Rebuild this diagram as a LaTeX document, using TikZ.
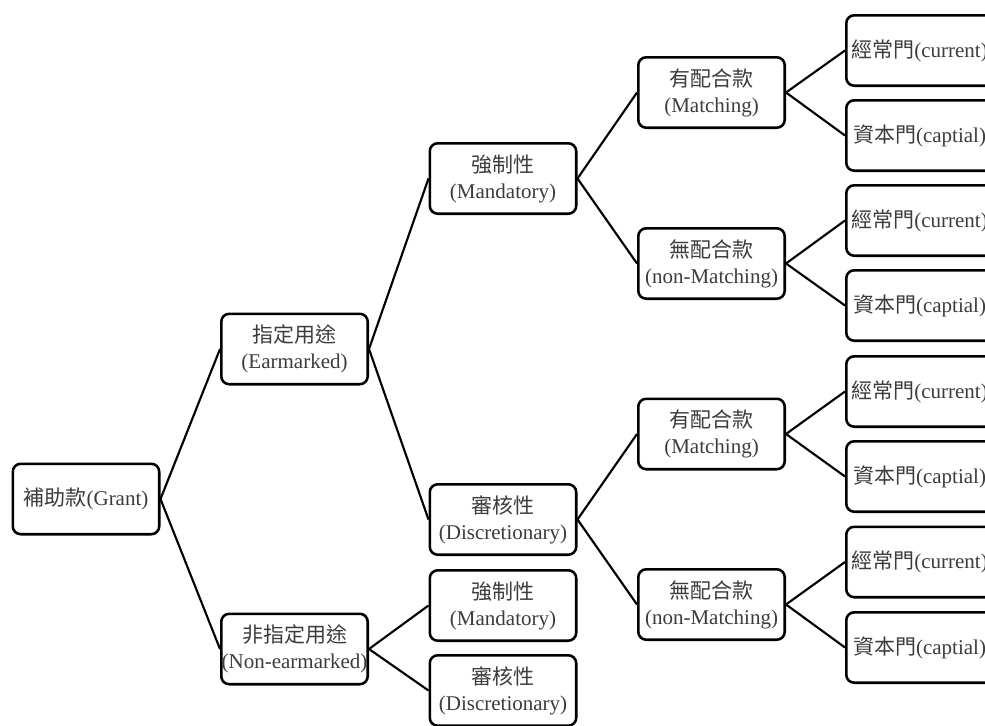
\documentclass[tikz,border=0pt]{standalone}
\usepackage{fontspec}
\setmainfont{Liberation Serif}
\newfontfamily\cjk{Noto Sans CJK TC}
\definecolor{txt}{RGB}{60,60,60}
\begin{document}
\begin{tikzpicture}[x=0.75pt,y=-0.75pt,
  box/.style={draw=black, line width=1.9pt, rounded corners=6pt, fill=white,
    minimum width=111.75pt-1.9pt, minimum height=54.75pt-1.9pt, inner sep=0pt,
    align=center, text=txt, font=\fontsize{15.75}{19.5}\selectfont},
  link/.style={draw=black, line width=1.6pt}]
\useasboundingbox (0,0) rectangle (985,725);
\clip (0,0) rectangle (985,725);
\node[box] (grant) at (86,499) {{\cjk 補助款}(Grant)};
\node[box] (earm) at (294.5,349) {{\cjk 指定用途}\\(Earmarked)};
\node[box] (nonearm) at (294.5,649) {{\cjk 非指定用途}\\(Non-earmarked)};
\node[box] (mand1) at (503,178.5) {{\cjk 強制性}\\(Mandatory)};
\node[box] (disc1) at (503,519.5) {{\cjk 審核性}\\(Discretionary)};
\node[box] (mand2) at (503,605.5) {{\cjk 強制性}\\(Mandatory)};
\node[box] (disc2) at (503,690.5) {{\cjk 審核性}\\(Discretionary)};
\node[box] (match1) at (711.5,92.5) {{\cjk 有配合款}\\(Matching)};
\node[box] (nonm1) at (711.5,263.5) {{\cjk 無配合款}\\(non-Matching)};
\node[box] (match2) at (711.5,434) {{\cjk 有配合款}\\(Matching)};
\node[box] (nonm2) at (711.5,604.5) {{\cjk 無配合款}\\(non-Matching)};
\node[box] (l1) at (919.5,50.5) {{\cjk 經常門}(current)};
\node[box] (l2) at (919.5,135.5) {{\cjk 資本門}(captial)};
\node[box] (l3) at (919.5,220.5) {{\cjk 經常門}(current)};
\node[box] (l4) at (919.5,305.5) {{\cjk 資本門}(captial)};
\node[box] (l5) at (919.5,391.5) {{\cjk 經常門}(current)};
\node[box] (l6) at (919.5,476.5) {{\cjk 資本門}(captial)};
\node[box] (l7) at (919.5,562) {{\cjk 經常門}(current)};
\node[box] (l8) at (919.5,647.5) {{\cjk 資本門}(captial)};
\draw[link] (grant.east) -- (earm.west);
\draw[link] (grant.east) -- (nonearm.west);
\draw[link] (earm.east) -- (mand1.west);
\draw[link] (earm.east) -- (disc1.west);
\draw[link] (nonearm.east) -- (mand2.west);
\draw[link] (nonearm.east) -- (disc2.west);
\draw[link] (mand1.east) -- (match1.west);
\draw[link] (mand1.east) -- (nonm1.west);
\draw[link] (disc1.east) -- (match2.west);
\draw[link] (disc1.east) -- (nonm2.west);
\draw[link] (match1.east) -- (l1.west);
\draw[link] (match1.east) -- (l2.west);
\draw[link] (nonm1.east) -- (l3.west);
\draw[link] (nonm1.east) -- (l4.west);
\draw[link] (match2.east) -- (l5.west);
\draw[link] (match2.east) -- (l6.west);
\draw[link] (nonm2.east) -- (l7.west);
\draw[link] (nonm2.east) -- (l8.west);
\end{tikzpicture}
\end{document}
